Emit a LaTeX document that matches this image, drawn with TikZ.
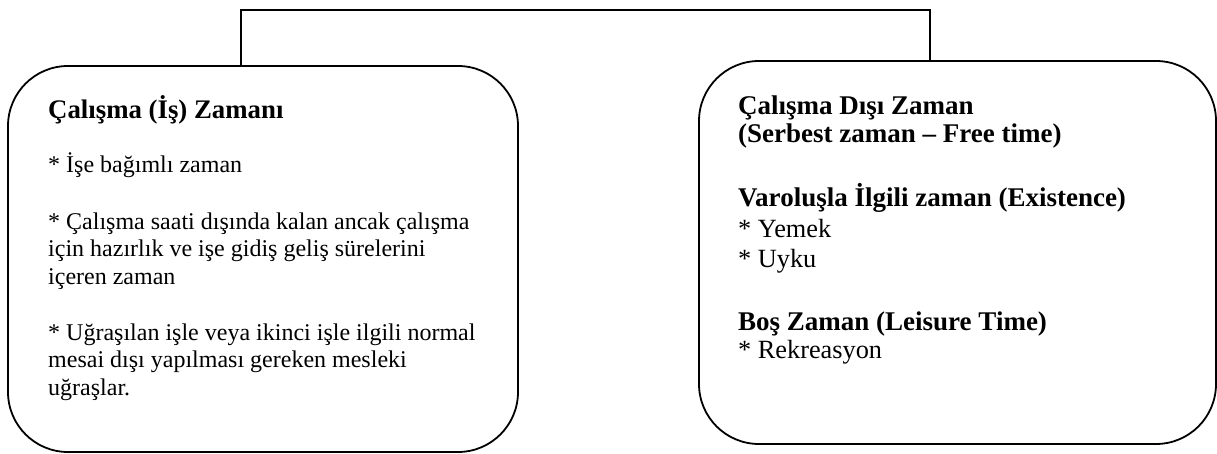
\documentclass[tikz,border=0pt]{standalone}
\usepackage{fontspec}
\setmainfont{Liberation Serif}
\tikzset{
  box/.style={draw=black, line width=1.8pt, rounded corners=60pt, inner sep=0pt},
  lnl/.style={anchor=base west, inner sep=0pt, font=\fontsize{24}{27}\selectfont},
  hdl/.style={anchor=base west, inner sep=0pt, font=\fontsize{26.8}{28}\selectfont\bfseries},
  lnr/.style={anchor=base west, inner sep=0pt, font=\fontsize{26.3}{30}\selectfont},
  hdr/.style={anchor=base west, inner sep=0pt, font=\fontsize{27}{28}\selectfont\bfseries},
  conn/.style={draw=black, line width=1.8pt},
}
\begin{document}
\begin{tikzpicture}[x=1pt, y=-1pt]
\useasboundingbox (0,0) rectangle (1217,454);
% boxes
\node[box, minimum width=510pt, minimum height=386pt] (L) at (263,259) {};
\node[box, minimum width=517pt, minimum height=383pt] (R) at (957.5,252.5) {};
% connector
\coordinate (c1) at (241,10);
\coordinate (c2) at (930,10);
\draw[conn] (L.north -| c1) -- (c1) -- (c2) -- (R.north -| c2);
% left text
\node[hdl] (l1) at (48,119) {Çalışma (İş) Zamanı};
\node[lnl] (l2) at (48,173) {* İşe bağımlı zaman};
\node[lnl] (l3) at (48,229.5) {* Çalışma saati dışında kalan ancak çalışma};
\node[lnl] (l4) at (48,257) {için hazırlık ve işe gidiş geliş sürelerini};
\node[lnl] (l5) at (48,284.5) {içeren zaman};
\node[lnl] (l6) at (48,340) {* Uğraşılan işle veya ikinci işle ilgili normal};
\node[lnl] (l7) at (48,367.5) {mesai dışı yapılması gereken mesleki};
\node[lnl] (l8) at (48,395) {uğraşlar.};
% right text
\node[hdr] (r1) at (738,115) {Çalışma Dışı Zaman};
\node[hdr] (r2) at (738,143) {(Serbest zaman – Free time)};
\node[hdr] (r3) at (738,207) {Varoluşla İlgili zaman (Existence)};
\node[lnr] (r4) at (738,237) {* Yemek};
\node[lnr] (r5) at (738,267) {* Uyku};
\node[hdr] (r6) at (738,330) {Boş Zaman (Leisure Time)};
\node[lnr] (r7) at (738,358) {* Rekreasyon};
\end{tikzpicture}
\end{document}
